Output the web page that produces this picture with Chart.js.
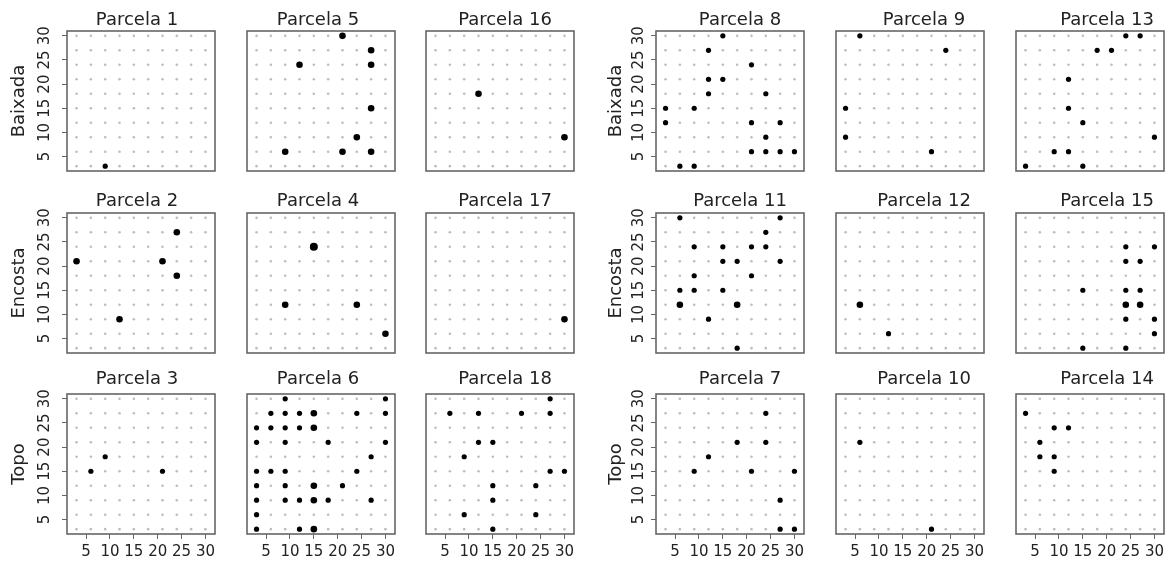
<!DOCTYPE html>
<html><head><meta charset="utf-8">
<script src="https://cdn.jsdelivr.net/npm/chart.js@4.4.1/dist/chart.umd.min.js"></script>
<style>
html,body{margin:0;padding:0;background:#fff;}
#wrap{position:relative;width:1170px;height:563px;overflow:hidden;background:#fff;}
#wrap canvas{position:absolute;}
</style></head><body><div id="wrap"></div>
<script>
// ---------- data ----------
const gridValues = [3,6,9,12,15,18,21,24,27,30];
const xTickLabels = [5,10,15,20,25,30];
const yTickLabels = [5,10,15,20,25,30];
const rowLabels = ['Baixada','Encosta','Topo'];
const panelTitles = [
  ['Parcela 1','Parcela 5','Parcela 16','Parcela 8','Parcela 9','Parcela 13'],
  ['Parcela 2','Parcela 4','Parcela 17','Parcela 11','Parcela 12','Parcela 15'],
  ['Parcela 3','Parcela 6','Parcela 18','Parcela 7','Parcela 10','Parcela 14']
];
// points: [x, y, count]
const parcela1  = [[9,3,1]];
const parcela5  = [[21,30,2],[27,27,2],[12,24,2],[27,24,2],[27,15,2],[24,9,2],[9,6,2],[21,6,2],[27,6,2]];
const parcela16 = [[12,18,2],[30,9,2]];
const parcela8  = [[15,30,1],[12,27,1],[21,24,1],[12,21,1],[15,21,1],[12,18,1],[24,18,1],[3,15,1],[9,15,1],[3,12,1],[21,12,1],[27,12,1],[24,9,1],[21,6,1],[24,6,1],[27,6,1],[30,6,1],[6,3,1],[9,3,1]];
const parcela9  = [[6,30,1],[24,27,1],[3,15,1],[3,9,1],[21,6,1]];
const parcela13 = [[24,30,1],[27,30,1],[18,27,1],[21,27,1],[12,21,1],[12,15,1],[15,12,1],[30,9,1],[9,6,1],[12,6,1],[3,3,1],[15,3,1]];
const parcela2  = [[24,27,2],[3,21,2],[21,21,2],[24,18,2],[12,9,2]];
const parcela4  = [[15,24,3],[9,12,2],[24,12,2],[30,6,2]];
const parcela17 = [[30,9,2]];
const parcela11 = [[6,30,1],[27,30,1],[24,27,1],[9,24,1],[15,24,1],[21,24,1],[24,24,1],[15,21,1],[18,21,1],[27,21,1],[9,18,1],[21,18,1],[6,15,1],[9,15,1],[15,15,1],[6,12,2],[18,12,2],[12,9,1],[18,3,1]];
const parcela12 = [[6,12,2],[12,6,1]];
const parcela15 = [[24,24,1],[30,24,1],[24,21,1],[27,21,1],[15,15,1],[24,15,1],[27,15,1],[24,12,2],[27,12,2],[24,9,1],[30,9,1],[30,6,1],[15,3,1],[24,3,1]];
const parcela3  = [[6,15,1],[9,18,1],[21,15,1]];
const parcela6  = [[9,30,1],[30,30,1],
  [6,27,1],[9,27,1],[12,27,1],[15,27,2],[24,27,1],[30,27,1],
  [3,24,1],[6,24,1],[9,24,1],[12,24,1],[15,24,2],
  [3,21,1],[9,21,1],[18,21,1],[30,21,1],
  [27,18,1],
  [3,15,1],[6,15,1],[9,15,1],[24,15,1],
  [3,12,1],[9,12,1],[15,12,2],[21,12,1],
  [3,9,1],[9,9,1],[12,9,1],[15,9,2],[18,9,1],[27,9,1],
  [3,6,1],
  [3,3,1],[12,3,1],[15,3,2]];
const parcela18 = [[27,30,1],[6,27,1],[12,27,1],[21,27,1],[27,27,1],[12,21,1],[15,21,1],[9,18,1],[27,15,1],[30,15,1],[15,12,1],[24,12,1],[15,9,1],[9,6,1],[24,6,1],[15,3,1]];
const parcela7  = [[24,27,1],[18,21,1],[24,21,1],[12,18,1],[9,15,1],[21,15,1],[30,15,1],[27,9,1],[27,3,1],[30,3,1]];
const parcela10 = [[6,21,1],[21,3,1]];
const parcela14 = [[3,27,1],[9,24,1],[12,24,1],[6,21,1],[6,18,1],[9,18,1],[9,15,1]];

const panelData = [
  [parcela1, parcela5, parcela16, parcela8, parcela9, parcela13],
  [parcela2, parcela4, parcela17, parcela11, parcela12, parcela15],
  [parcela3, parcela6, parcela18, parcela7, parcela10, parcela14]
];

// ---------- layout ----------
const FONT = 'DejaVu Sans';
const rowTops = [31, 213, 394];
const colLefts = [67, 247, 426, 656, 836, 1016];
const PW = 148, PH = 140;
const PL = 62, PT = 30, PR = 6, PB = 30;
const titleDx = [-4, -3, 5, 10, 14, 17];
const titleDy = [-10.5, -11.5, -15];

const lattice = [];
gridValues.forEach(x => gridValues.forEach(y => lattice.push({x, y})));

function radiusFor(n) { return n >= 3 ? 4 : (n === 2 ? 3.3 : 2.6); }

const framePlugin = {
  id: 'frame',
  afterDatasetsDraw(chart) {
    const {ctx, chartArea: a} = chart;
    ctx.save();
    ctx.strokeStyle = '#666';
    ctx.lineWidth = 1.6;
    ctx.strokeRect(a.left, a.top, a.width, a.height);
    ctx.restore();
  }
};
const titlePlugin = {
  id: 'panelTitle',
  afterDraw(chart, args, opts) {
    const {ctx, chartArea: a} = chart;
    ctx.save();
    ctx.font = '18px "' + FONT + '"';
    ctx.fillStyle = '#222';
    ctx.textAlign = 'center';
    ctx.textBaseline = 'middle';
    ctx.fillText(opts.text, (a.left + a.right) / 2 + opts.dx, a.top + opts.dy);
    ctx.restore();
  }
};

const wrap = document.getElementById('wrap');
for (let r = 0; r < 3; r++) {
  for (let c = 0; c < 6; c++) {
    const canvas = document.createElement('canvas');
    canvas.width = PL + PW + PR;
    canvas.height = PT + PH + PB;
    canvas.style.left = (colLefts[c] - PL) + 'px';
    canvas.style.top = (rowTops[r] - PT) + 'px';
    wrap.appendChild(canvas);
    const isLeft = (c === 0 || c === 3);
    const isBottom = (r === 2);
    const group = c < 3 ? 0 : 1;
    const pts = panelData[r][c].map(p => ({x: p[0], y: p[1], n: p[2]}));
    new Chart(canvas, {
      type: 'scatter',
      data: {
        datasets: [
          {data: lattice, pointRadius: 1.3, pointBackgroundColor: '#bdbdbd', pointBorderWidth: 0, order: 2},
          {data: pts, pointRadius: ctx => radiusFor(ctx.raw.n), pointBackgroundColor: '#000', pointBorderWidth: 0, order: 1}
        ]
      },
      options: {
        responsive: false, animation: false, events: [],
        layout: {padding: {left: isLeft ? 0 : PL, right: PR, top: PT, bottom: isBottom ? 0 : PB}},
        plugins: {
          legend: {display: false}, tooltip: {enabled: false}, title: {display: false},
          panelTitle: {text: panelTitles[r][c], dx: titleDx[c], dy: titleDy[r]}
        },
        scales: {
          x: {
            type: 'linear', min: 1, max: 32, bounds: 'data', display: isBottom, position: 'bottom',
            afterBuildTicks: s => { s.ticks = xTickLabels.map(v => ({value: v})); },
            afterFit: s => { if (isBottom) s.height = PB; },
            ticks: {autoSkip: false, minRotation: 0, maxRotation: 0, padding: 4.5, font: {family: FONT, size: 15}, color: '#222'},
            grid: {drawOnChartArea: false, drawTicks: true, tickLength: 5, color: '#666'},
            border: {display: false}
          },
          y: {
            type: 'linear', min: 2, max: 31, bounds: 'data', display: isLeft, position: 'left',
            afterBuildTicks: s => { s.ticks = yTickLabels.map(v => ({value: v})); },
            afterFit: s => { if (isLeft) s.width = PL; },
            ticks: {autoSkip: false, minRotation: 90, maxRotation: 90, crossAlign: 'center',
                    padding: group ? 2 : 7.4, font: {family: FONT, size: 15}, color: '#222'},
            grid: {drawOnChartArea: false, drawTicks: true, tickLength: 5, color: '#666'},
            border: {display: false},
            title: {display: true, text: rowLabels[r], color: '#222', font: {family: FONT, size: 18},
                    padding: {top: group ? 11.2 : 3.2, bottom: 0}}
          }
        }
      },
      plugins: [framePlugin, titlePlugin]
    });
  }
}
</script>
</body></html>
